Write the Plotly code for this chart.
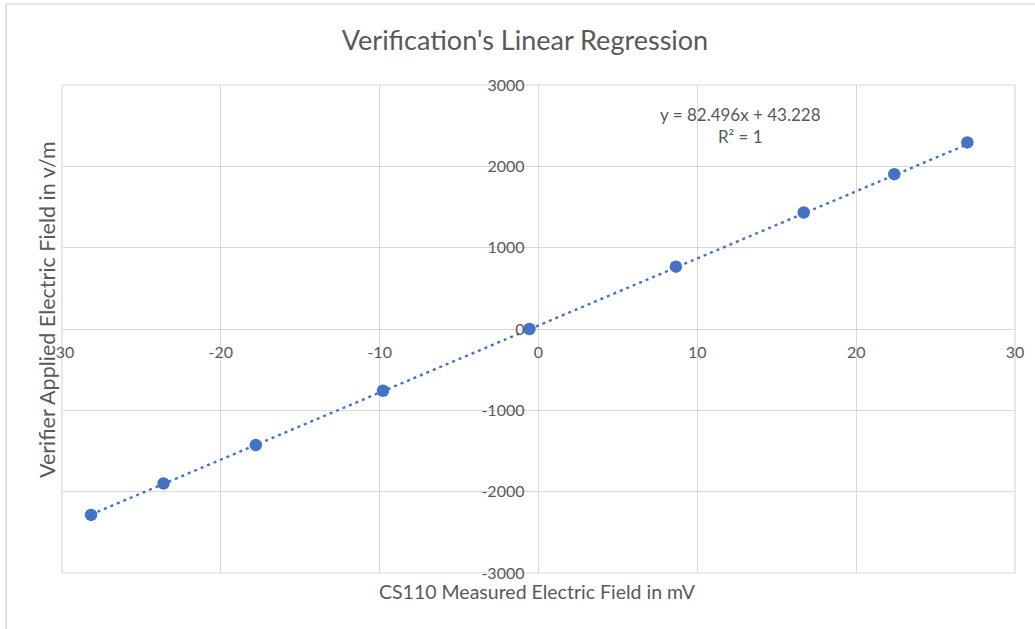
import plotly.graph_objects as go

# Data
x_vals = [-28.17, -23.61, -17.80, -9.79, -0.57, 8.65, 16.70, 22.40, 27.00]
y_vals = [-2286, -1900, -1427, -759, 0, 766, 1432, 1904, 2294]

slope = 82.496
intercept = 43.228
r_squared = 1

x_ticks = [-30, -20, -10, 0, 10, 20, 30]
x_tick_labels = ["-30", "-20", "-10", "0", "10", "20", "30"]
y_ticks = [-3000, -2000, -1000, 0, 1000, 2000, 3000]
y_tick_labels = ["-3000", "-2000", "-1000", "0", "1000", "2000", "3000"]

title_text = "Verification's Linear Regression"
x_title = "CS110 Measured Electric Field in mV"
y_title = "Verifier Applied Electric Field in v/m"

BLUE = "#4472C4"
GRID = "#D9D9D9"
TXT = "#595959"
FONT = "Lato"

W, H = 1035, 629
L, T, R, B = 62, 85, 20, 56
PW, PH = W - L - R, H - T - B


def px_x(px):
    return (px - L) / PW


def px_y(py):
    return (H - B - py) / PH


trend_x = [min(x_vals), max(x_vals)]
trend_y = [slope * v + intercept for v in trend_x]

fig = go.Figure()
fig.add_trace(go.Scatter(
    x=trend_x, y=trend_y, mode="lines",
    line=dict(color=BLUE, width=2.4, dash="3px,4px"),
    showlegend=False, hoverinfo="skip"))
fig.add_trace(go.Scatter(
    x=x_vals, y=y_vals, mode="markers",
    marker=dict(color=BLUE, size=12.5),
    showlegend=False))

fig.update_layout(
    width=W, height=H,
    margin=dict(l=L, r=R, t=T, b=B),
    paper_bgcolor="white", plot_bgcolor="white",
    font=dict(family=FONT, color=TXT, size=15),
    title=dict(text=title_text, x=525 / W, xref="container", xanchor="center",
               y=1 - 41 / H, yref="container", yanchor="middle",
               font=dict(family=FONT, size=27, color=TXT)),
    xaxis=dict(range=[-30, 30], tickvals=x_ticks, ticktext=x_tick_labels,
               showgrid=True, gridcolor=GRID,
               gridwidth=1, zeroline=True, zerolinecolor=GRID, zerolinewidth=1.2,
               showline=False, anchor="free", position=0.5, ticks="",
               ticklabelstandoff=12, tickfont=dict(size=16, color=TXT, family=FONT)),
    yaxis=dict(range=[-3000, 3000], tickvals=y_ticks, ticktext=y_tick_labels,
               showgrid=True, gridcolor=GRID,
               gridwidth=1, zeroline=True, zerolinecolor=GRID, zerolinewidth=1.2,
               showline=False, anchor="free", position=0.5, ticks="",
               ticklabelstandoff=14, tickfont=dict(size=16, color=TXT, family=FONT)),
    shapes=[
        dict(type="line", xref="paper", yref="paper",
             x0=px_x(6), x1=px_x(6), y0=px_y(4), y1=px_y(629),
             line=dict(color=GRID, width=1.5), layer="below"),
        dict(type="line", xref="paper", yref="paper",
             x0=px_x(6), x1=px_x(1035), y0=px_y(4), y1=px_y(4),
             line=dict(color=GRID, width=1.5), layer="below"),
        dict(type="rect", xref="paper", yref="paper", x0=0, x1=1, y0=0, y1=1,
             line=dict(color=GRID, width=1.2), layer="below"),
    ],
    annotations=[
        dict(text=x_title, xref="paper", yref="paper", x=px_x(537),
             y=px_y(591), xanchor="center", yanchor="middle",
             showarrow=False, font=dict(size=19.5, color=TXT, family=FONT)),
        dict(text=y_title, xref="paper", yref="paper", x=px_x(47),
             y=px_y(310), xanchor="center", yanchor="middle", textangle=-90,
             showarrow=False, font=dict(size=21.5, color=TXT, family=FONT)),
        dict(text=f"y = {slope}x + {intercept}<br>R² = {r_squared}", xref="paper",
             yref="paper", x=px_x(740), y=px_y(125),
             xanchor="center", yanchor="middle", align="center", showarrow=False,
             font=dict(size=17, color=TXT, family=FONT)),
    ],
)

fig.write_html("out.html",
               config={"displayModeBar": False},
               post_script="document.body.style.margin='0';")
